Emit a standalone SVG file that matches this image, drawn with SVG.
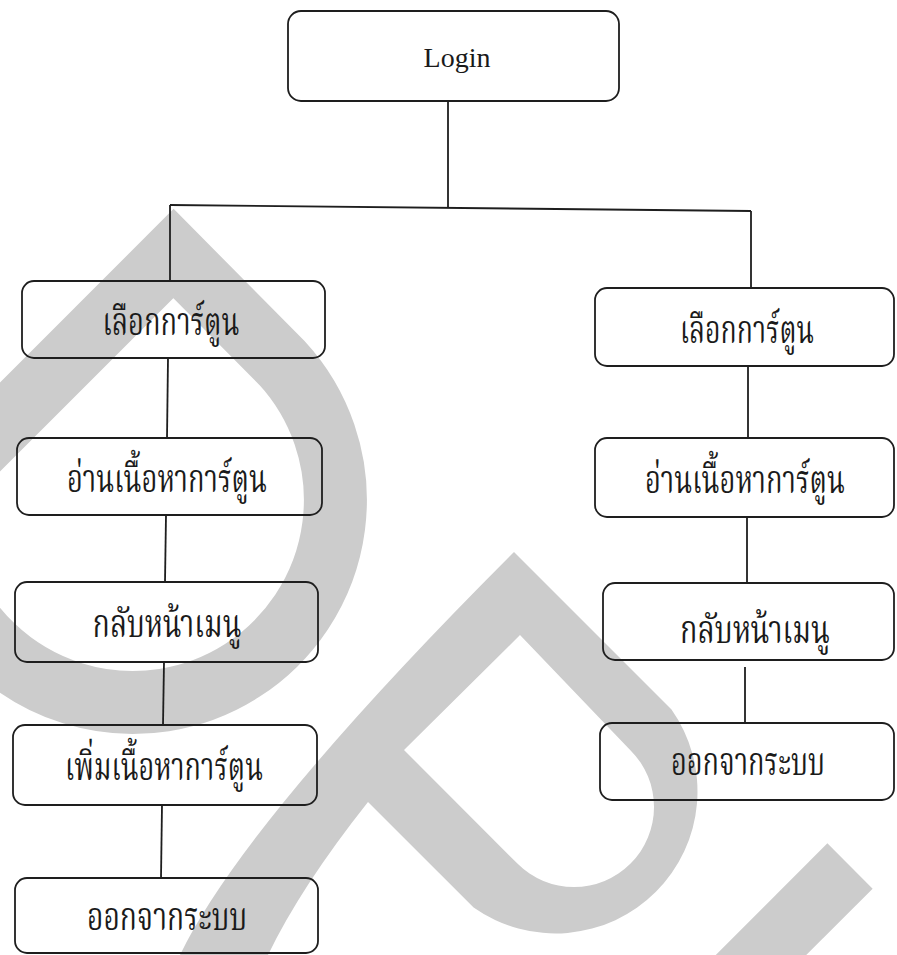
<svg xmlns="http://www.w3.org/2000/svg" width="897" height="955" viewBox="0 0 897 955">
<style>
.wm{fill:#cccccc;stroke:none}
.wms{fill:none;stroke:#cccccc;stroke-width:63;stroke-linejoin:miter;stroke-miterlimit:10}
.box{fill:none;stroke:#1e1e1e;stroke-width:1.8}
.ln{fill:none;stroke:#1e1e1e;stroke-width:1.8}
.th{font-family:'Noto Serif Thai','Noto Sans Thai','Angsana New','Loma','Garuda','Liberation Serif',serif;font-size:40px;fill:#1a1a1a;text-anchor:middle}
.en{font-family:'Liberation Serif','Times New Roman',serif;font-size:28px;fill:#1a1a1a;text-anchor:middle}
</style>
<rect x="0" y="0" width="897" height="955" fill="#ffffff"/>
<g id="watermark">
<path class="wms" d="M -60 487 L 173.5 253.5 L 282 363 A 202.5 202.5 0 1 1 -54 578"/>
<path class="wm" fill-rule="evenodd" d="M 166 985 L 180 955 Q 244 822 514 552 L 671.5 709.5 A 142 142 0 0 1 473.6 907.4 L 368 802 Q 301 886.5 268 955 L 254 985 Z M 520 635 L 630.6 750.4 A 80 80 0 0 1 517.4 863.6 L 404 750 Z"/>
<line x1="850" y1="866" x2="690" y2="1026" stroke="#cccccc" stroke-width="64"/>
</g>
<g id="connectors">
<line class="ln" x1="448" y1="101" x2="448" y2="208"/>
<line class="ln" x1="170" y1="205" x2="751" y2="211"/>
<line class="ln" x1="170" y1="205" x2="170" y2="281"/>
<line class="ln" x1="751" y1="211" x2="751" y2="288"/>
<line class="ln" x1="168" y1="358" x2="167" y2="438"/>
<line class="ln" x1="166" y1="515" x2="165" y2="582"/>
<line class="ln" x1="164" y1="662" x2="163" y2="725"/>
<line class="ln" x1="162" y1="805" x2="161" y2="878"/>
<line class="ln" x1="748" y1="366" x2="748" y2="438"/>
<line class="ln" x1="747" y1="517" x2="747" y2="583"/>
<line class="ln" x1="745" y1="667" x2="745" y2="723"/>
</g>
<g id="login">
<rect class="box" x="288" y="11" width="331" height="90" rx="13"/>
<text class="en" x="457" y="67">Login</text>
</g>
<g id="l1">
<rect class="box" x="22" y="281" width="303" height="77" rx="12"/>
<text class="th" x="171" y="335" textLength="137" lengthAdjust="spacingAndGlyphs">เลือกการ์ตูน</text>
</g>
<g id="l2">
<rect class="box" x="17" y="438" width="305" height="77" rx="12"/>
<text class="th" x="167" y="492" textLength="200" lengthAdjust="spacingAndGlyphs">อ่านเนื้อหาการ์ตูน</text>
</g>
<g id="l3">
<rect class="box" x="15" y="582" width="303" height="80" rx="12"/>
<text class="th" x="167" y="637" textLength="149" lengthAdjust="spacingAndGlyphs">กลับหน้าเมนู</text>
</g>
<g id="l4">
<rect class="box" x="13" y="725" width="304" height="80" rx="12"/>
<text class="th" x="164" y="780" textLength="198" lengthAdjust="spacingAndGlyphs">เพิ่มเนื้อหาการ์ตูน</text>
</g>
<g id="l5">
<rect class="box" x="15" y="878" width="303" height="75" rx="12"/>
<text class="th" x="167" y="930" textLength="160" lengthAdjust="spacingAndGlyphs">ออกจากระบบ</text>
</g>
<g id="r1">
<rect class="box" x="595" y="288" width="299" height="78" rx="12"/>
<text class="th" x="747" y="343" textLength="134" lengthAdjust="spacingAndGlyphs">เลือกการ์ตูน</text>
</g>
<g id="r2">
<rect class="box" x="595" y="438" width="299" height="79" rx="12"/>
<text class="th" x="745" y="493" textLength="200" lengthAdjust="spacingAndGlyphs">อ่านเนื้อหาการ์ตูน</text>
</g>
<g id="r3">
<rect class="box" x="603" y="583" width="291" height="77" rx="12"/>
<text class="th" x="755" y="643" textLength="150" lengthAdjust="spacingAndGlyphs">กลับหน้าเมนู</text>
</g>
<g id="r4">
<rect class="box" x="600" y="723" width="294" height="77" rx="12"/>
<text class="th" x="748" y="775" textLength="154" lengthAdjust="spacingAndGlyphs">ออกจากระบบ</text>
</g>
</svg>
